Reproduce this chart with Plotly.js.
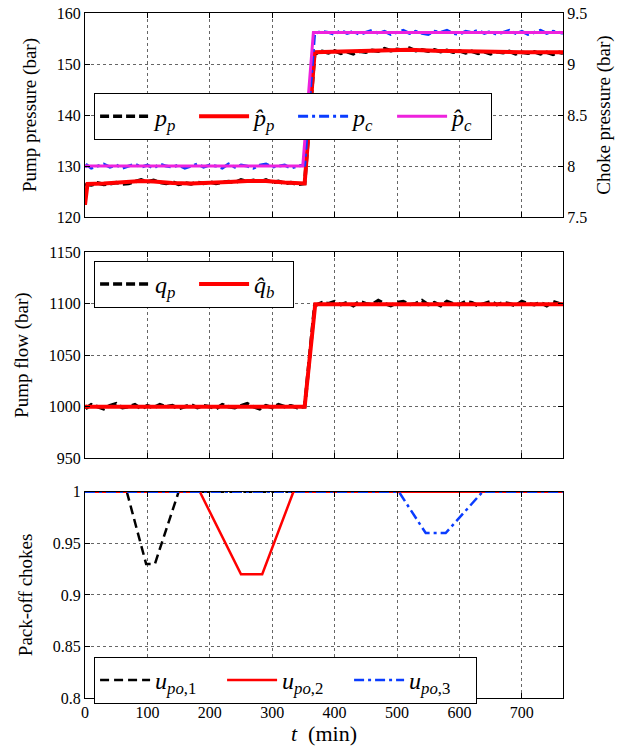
<!DOCTYPE html>
<html>
<head>
<meta charset="utf-8">
<style>html,body{margin:0;padding:0;background:#fff;}</style>
</head>
<body>
<span style="font-family:'Liberation Serif';position:absolute;left:-2000px;top:0;font-size:16px">Pump pressure 0123456789 <i>p q u</i></span>
<span style="font-family:'Liberation Serif';position:absolute;left:-2000px;top:30px;font-size:24px"><i>p̂ q̂ u</i></span>
<div id="chart" style="width:624px;height:748px;"></div>
<script src="https://cdn.plot.ly/plotly-3.0.1.min.js"></script>
<script>
// ---- time grids (min) ----
const tMeas = [0,3,10,20,30,40,50,60,70,80,90,100,110,120,130,140,150,160,170,180,190,200,210,220,230,240,250,260,270,280,290,300,310,320,330,340,352,
  368,380,390,400,410,420,430,440,450,460,470,480,490,500,510,520,530,540,550,560,570,580,590,600,610,620,630,640,650,660,670,680,690,700,710,720,730,740,750,760,766];

// ---- Panel 1: pump pressure (bar, left axis) and choke pressure (bar, right axis) ----
const ppMeas = [126.2,126.4,126.3,126.7,126.4,126.5,126.8,126.5,126.6,126.9,
  127.3,126.9,127.2,126.8,126.6,126.9,126.4,126.7,126.5,126.8,
  126.6,126.9,126.6,126.8,127.0,126.8,127.3,127.0,127.2,126.9,
  127.3,126.8,127.0,126.6,126.8,126.4,126.6,
  152.0,152.5,
  152.2,152.6,152.1,152.4,152.0,152.5,152.3,152.7,152.5,153.0,
  152.6,152.9,152.7,153.1,152.6,152.8,152.5,152.8,152.4,152.7,
  152.3,152.6,152.2,152.5,152.1,152.4,152.0,152.4,152.2,152.5,
  152.0,152.3,152.1,152.4,152.0,152.3,151.9,152.3,
  152.1];
const tEst = [0,4,30,60,90,110,140,170,200,230,260,290,320,352,368,400,440,480,520,560,600,650,700,766];
const ppEst = [122.4,126.5,126.6,126.8,127.1,127.0,126.7,126.6,126.7,126.9,127.1,127.1,126.8,126.6,152.3,152.4,152.5,152.8,152.8,152.6,152.5,152.4,152.3,152.3];

const pcMeas = [7.99,8.01,7.98,8.00,8.02,7.99,8.01,7.98,8.00,8.02,
  7.99,8.01,7.98,8.02,8.00,7.99,8.01,7.98,8.00,8.02,
  7.99,8.01,8.00,7.98,8.02,7.99,8.01,8.00,7.98,8.01,
  8.02,7.99,8.00,8.01,7.98,8.00,8.01,
  9.30,9.32,
  9.31,9.29,9.33,9.30,9.32,9.29,9.31,9.33,9.30,9.32,
  9.29,9.31,9.33,9.30,9.32,9.30,9.29,9.32,9.31,9.33,
  9.30,9.29,9.32,9.31,9.33,9.30,9.32,9.29,9.31,9.33,
  9.30,9.32,9.29,9.31,9.33,9.30,9.32,9.31,
  9.30];
const tStep = [0,349,366,766];
const pcEst = [8.0,8.0,9.31,9.31];

// ---- Panel 2: pump flow ----
const qpMeas = [1001,999,1002,1000,998,1001,1003,999,1000,1002,
  998,1001,999,1002,1000,1001,998,1000,1002,999,
  1001,1000,998,1002,1000,999,1001,1003,1000,998,
  1001,999,1002,1000,1001,999,1000,
  1098,1101,
  1100,1102,1099,1101,1098,1102,1100,1099,1103,1100,
  1098,1101,1102,1099,1100,1103,1099,1101,1098,1102,
  1100,1099,1102,1101,1098,1100,1102,1099,1101,1100,
  1098,1102,1100,1099,1101,1098,1102,1100,
  1099];
const tFlow = [0,352,369,766];
const qbEst = [1000,1000,1099.5,1099.5];

// ---- Panel 3: pack-off chokes ----
const tU1 = [0,67,98,112,150,766];
const u1 = [1,1,0.93,0.93,1,1];
const tU2 = [0,184,250,284,334,766];
const u2 = [1,1,0.92,0.92,1,1];
const tU3 = [0,503,546,578,637,766];
const u3 = [1,1,0.96,0.96,1,1];

const FONT = 'Liberation Serif';
const BLUE = '#0a3cff', RED = '#ff0000', MAG = '#ee22dd';

const traces = [
  {x:tMeas, y:ppMeas, xaxis:'x', yaxis:'y', mode:'lines', name:'<i>p</i><sub><i>p</i></sub>',
   line:{color:'#000', width:3.5, dash:'9px,4px'}, legend:'legend'},
  {x:tEst, y:ppEst, xaxis:'x', yaxis:'y', mode:'lines', name:'<i>p̂</i><sub><i>p</i></sub>',
   line:{color:RED, width:4}, legend:'legend'},
  {x:tMeas, y:pcMeas, xaxis:'x', yaxis:'y2', mode:'lines', name:'<i>p</i><sub><i>c</i></sub>',
   line:{color:BLUE, width:3, dash:'10px,4px,3px,4px'}, legend:'legend'},
  {x:tStep, y:pcEst, xaxis:'x', yaxis:'y2', mode:'lines', name:'<i>p̂</i><sub><i>c</i></sub>',
   line:{color:MAG, width:3}, legend:'legend'},

  {x:tMeas, y:qpMeas, xaxis:'x2', yaxis:'y3', mode:'lines', name:'<i>q</i><sub><i>p</i></sub>',
   line:{color:'#000', width:3.5, dash:'9px,4px'}, legend:'legend2'},
  {x:tFlow, y:qbEst, xaxis:'x2', yaxis:'y3', mode:'lines', name:'<i>q̂</i><sub><i>b</i></sub>',
   line:{color:RED, width:4}, legend:'legend2'},

  {x:tU1, y:u1, xaxis:'x3', yaxis:'y4', mode:'lines', name:'<i>u</i><sub><i>po</i>,1</sub>',
   line:{color:'#000', width:2.5, dash:'9px,5px'}, legend:'legend3'},
  {x:tU2, y:u2, xaxis:'x3', yaxis:'y4', mode:'lines', name:'<i>u</i><sub><i>po</i>,2</sub>',
   line:{color:RED, width:2.5}, legend:'legend3'},
  {x:tU3, y:u3, xaxis:'x3', yaxis:'y4', mode:'lines', name:'<i>u</i><sub><i>po</i>,3</sub>',
   line:{color:BLUE, width:2.5, dash:'10px,4px,3px,4px'}, legend:'legend3'}
];

const common = {
  showline:true, linecolor:'#000', linewidth:1.3, mirror:'ticks',
  ticks:'inside', ticklen:5, tickcolor:'#000', tickwidth:1,
  showgrid:true, gridcolor:'#666', griddash:'dot', gridwidth:1,
  zeroline:false, tickfont:{family:FONT, size:16, color:'#000'}
};
const xcommon = Object.assign({}, common, {range:[0,766], dtick:100, tick0:0});
const titleFont = {family:FONT, size:19, color:'#000'};
const legendCommon = {
  bgcolor:'#fff', bordercolor:'#000', borderwidth:1, orientation:'h',
  xanchor:'left', yanchor:'top', font:{family:FONT, size:24, color:'#000'},
  itemwidth:50, tracegroupgap:0, entrywidthmode:'pixels'
};

const layout = {
  width:624, height:748,
  margin:{l:85, r:61, t:13, b:50},
  paper_bgcolor:'#fff', plot_bgcolor:'#fff',
  font:{family:FONT, size:16, color:'#000'},
  showlegend:true,
  xaxis: Object.assign({}, xcommon, {domain:[0,1], anchor:'y', showticklabels:false}),
  xaxis2: Object.assign({}, xcommon, {domain:[0,1], anchor:'y3', showticklabels:false}),
  xaxis3: Object.assign({}, xcommon, {domain:[0,1], anchor:'y4',
    title:{text:'<i>t</i>  (min)', font:{family:FONT, size:22, color:'#000'}, standoff:4}}),
  yaxis: Object.assign({}, common, {domain:[0.702,1], anchor:'x', range:[120,160], dtick:10,
    title:{text:'Pump pressure (bar)', font:titleFont, standoff:14}}),
  yaxis2: Object.assign({}, common, {domain:[0.702,1], anchor:'x', overlaying:'y', side:'right',
    range:[7.5,9.5], dtick:0.5, showgrid:false, mirror:false,
    title:{text:'Choke pressure (bar)', font:titleFont, standoff:10}}),
  yaxis3: Object.assign({}, common, {domain:[0.350,0.651], anchor:'x2', range:[950,1150], dtick:50,
    title:{text:'Pump flow (bar)', font:titleFont, standoff:14}}),
  yaxis4: Object.assign({}, common, {domain:[0,0.301], anchor:'x3', range:[0.8,1], dtick:0.05,
    title:{text:'Pack-off chokes', font:titleFont, standoff:14}}),
  legend: Object.assign({}, legendCommon, {x:0.019, y:0.883, entrywidth:34}),
  legend2: Object.assign({}, legendCommon, {x:0.019, y:0.638, entrywidth:34}),
  legend3: Object.assign({}, legendCommon, {x:0.019, y:0.060, entrywidth:62})
};

const gd = document.getElementById('chart');
Plotly.newPlot(gd, traces, layout, {displayModeBar:false});
if (document.fonts && document.fonts.ready) {
  document.fonts.ready.then(function(){ Plotly.redraw(gd); });
}
</script>
</body>
</html>
